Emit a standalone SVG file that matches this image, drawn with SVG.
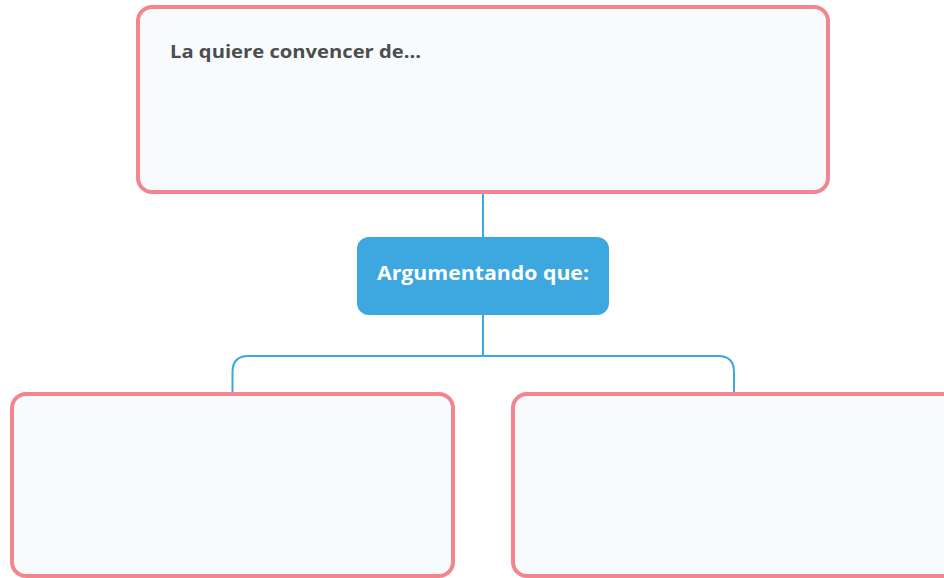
<svg xmlns="http://www.w3.org/2000/svg" width="944" height="578" viewBox="0 0 944 578">
<style>
.box{fill:#f7fbfe;stroke:#f4858f;stroke-width:4}
.conn{fill:none;stroke:#3da7df;stroke-width:2}
.t{font-family:"Open Sans","Liberation Sans",sans-serif;font-weight:bold}
</style>
<rect width="944" height="578" fill="#ffffff"/>
<g id="connectors">
<line class="conn" x1="483" y1="192" x2="483" y2="238"/>
<line class="conn" x1="483" y1="314" x2="483" y2="356"/>
<path class="conn" d="M232.5 394 V372 Q232.5 356 248.5 356 H718 Q734 356 734 372 V394"/>
</g>
<g id="top">
<rect class="box" x="138" y="7" width="690" height="185" rx="14"/>
<text class="t" x="170" y="58" font-size="18" fill="#4d4d4d" textLength="251" lengthAdjust="spacingAndGlyphs">La quiere convencer de...</text>
</g>
<g id="middle">
<rect x="357" y="237" width="252" height="78" rx="12" fill="#3da7df"/>
<text class="t" x="483" y="280" font-size="19" fill="#ffffff" text-anchor="middle" textLength="212" lengthAdjust="spacingAndGlyphs">Argumentando que:</text>
</g>
<g id="left">
<rect class="box" x="12" y="394" width="441" height="182" rx="14"/>
</g>
<g id="right">
<rect class="box" x="513" y="394" width="460" height="182" rx="14"/>
</g>
</svg>
